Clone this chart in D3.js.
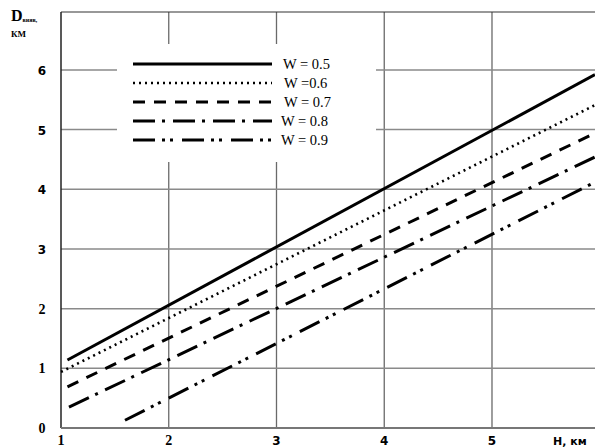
<!DOCTYPE html>
<html><head><meta charset="utf-8">
<script src="https://cdn.jsdelivr.net/npm/d3@7"></script>
<style>body{margin:0;background:#fff}svg{display:block}</style>
</head><body>
<script>
// ---- data ----
const seriesNames = ["W = 0.5", "W =0.6", "W = 0.7", "W = 0.8", "W = 0.9"];
// each series: [H, D] endpoints (straight lines)
const w05 = [[1.06, 1.14], [5.956, 5.92]];
const w06 = [[1.0, 0.94], [5.956, 5.41]];
const w07 = [[1.06, 0.69], [5.956, 4.94]];
const w08 = [[1.074, 0.35], [5.956, 4.54]];
const w09 = [[1.594, 0.13], [5.956, 4.12]];
const seriesData = [w05, w06, w07, w08, w09];
const xTicks = [1, 2, 3, 4, 5];
const yTicks = [0, 1, 2, 3, 4, 5, 6];
const dashes = [null, "2,4", "12,9", "22,7,3,8", "22,7,3,5,3,9"];

const W = 595, H = 448;
const svg = d3.select("body").append("svg").attr("width", W).attr("height", H);
const x = d3.scaleLinear().domain([1, 5.956]).range([61, 595]);
const y = d3.scaleLinear().domain([0, 6.97]).range([428, 12]);

// grid
const grid = svg.append("g");
grid.selectAll(".vg").data(xTicks.slice(1)).join("line")
  .attr("x1", d => x(d)).attr("x2", d => x(d)).attr("y1", y(6.97)).attr("y2", y(0))
  .attr("stroke", "#6a6a6a").attr("stroke-width", 1.3);
grid.selectAll(".hg").data(yTicks.slice(1)).join("line")
  .attr("x1", x(1)).attr("x2", W).attr("y1", d => y(d)).attr("y2", d => y(d))
  .attr("stroke", "#8a8a8a").attr("stroke-width", 1.5);
// frame
svg.append("line").attr("x1", x(1)).attr("x2", W).attr("y1", 12).attr("y2", 12).attr("stroke", "#333").attr("stroke-width", 1.2);
svg.append("line").attr("x1", x(1)).attr("x2", x(1)).attr("y1", 12).attr("y2", y(0)).attr("stroke", "#222").attr("stroke-width", 1.5);
svg.append("line").attr("x1", x(1)).attr("x2", W).attr("y1", y(0)).attr("y2", y(0)).attr("stroke", "#777").attr("stroke-width", 2);

// series
const line = d3.line().x(d => x(d[0])).y(d => y(d[1]));
svg.append("g").selectAll("path").data(seriesData).join("path")
  .attr("d", line).attr("fill", "none").attr("stroke", "#000")
  .attr("stroke-width", (d, i) => i === 1 ? 2.6 : 3)
  .attr("stroke-dasharray", (d, i) => dashes[i]);

// legend box (white)
const lg = svg.append("g");
lg.append("rect").attr("x", 117).attr("y", 44).attr("width", 259).attr("height", 118).attr("fill", "#fff");
const ly = [64, 83, 102, 121, 140];
const lx = [283, 284, 284, 281, 281];
seriesNames.forEach((n, i) => {
  lg.append("line").attr("x1", 133).attr("x2", 272).attr("y1", ly[i]).attr("y2", ly[i])
    .attr("stroke", "#000").attr("stroke-width", i === 1 ? 2.6 : 3)
    .attr("stroke-dasharray", dashes[i]);
  lg.append("text").attr("x", lx[i]).attr("y", ly[i] + 5).text(n)
    .attr("font-family", "Liberation Serif, serif").attr("font-size", 14.5).attr("fill", "#000");
});

// tick labels
const serifTick = v => v <= 2;
svg.append("g").selectAll("text").data(yTicks).join("text")
  .attr("x", 42).attr("y", d => y(d) + 5).attr("text-anchor", "middle")
  .attr("font-family", d => serifTick(d) ? "Liberation Serif, serif" : "DejaVu Sans, sans-serif")
  .attr("font-weight", "bold").attr("font-size", d => serifTick(d) ? 14 : 12).text(d => d);
svg.append("g").selectAll("text").data(xTicks).join("text")
  .attr("x", d => x(d)).attr("y", 445).attr("text-anchor", "middle")
  .attr("font-family", d => serifTick(d) ? "Liberation Serif, serif" : "DejaVu Sans, sans-serif")
  .attr("font-weight", "bold").attr("font-size", d => serifTick(d) ? 14 : 12).text(d => d);
svg.append("text").attr("x", 553).attr("y", 445)
  .attr("font-family", "DejaVu Sans, sans-serif").attr("font-weight", "bold").attr("font-size", 11).text("H, км");

// y title
const yt = svg.append("text").attr("x", 11).attr("y", 21).attr("font-family", "Liberation Serif, serif").attr("font-weight", "bold");
yt.append("tspan").attr("font-size", 16).text("D");
yt.append("tspan").attr("font-size", 6).attr("dy", 1).text("вияв,");
svg.append("text").attr("x", 11).attr("y", 37).attr("font-family", "Liberation Serif, serif").attr("font-weight", "bold").attr("font-size", 9).text("КМ");
</script>
</body></html>
